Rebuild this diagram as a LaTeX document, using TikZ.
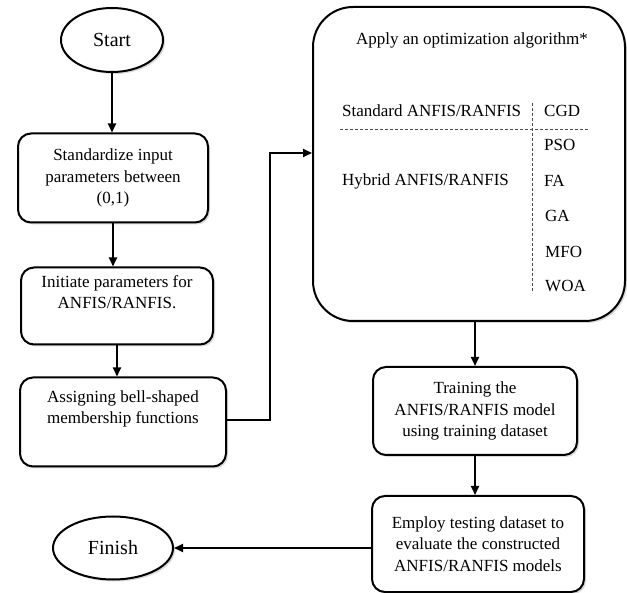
\documentclass[tikz,border=0pt]{standalone}
\usepackage{fontspec}
\setmainfont{Liberation Serif}
\usetikzlibrary{shapes.geometric, shadows, arrows.meta}

\begin{document}
\begin{tikzpicture}
        [x=1pt, y=-1pt,
        term/.style={ellipse, draw, line width=2pt, fill=white, inner sep=0pt,
            drop shadow={shadow xshift=2pt, shadow yshift=-2pt, opacity=0.3},
            font=\fontsize{20}{24}\selectfont},
        box/.style={rectangle, rounded corners=13pt, draw, line width=2pt, fill=white,
            align=center, inner sep=0pt,
            drop shadow={shadow xshift=2pt, shadow yshift=-2pt, opacity=0.3},
            font=\fontsize{17}{21.5}\selectfont},
        bigbox/.style={box, rounded corners=40pt},
        txt/.style={anchor=west, inner sep=0pt, font=\fontsize{17}{21.5}\selectfont},
        arrow/.style={line width=2pt, -{Triangle[length=9pt, width=8pt]}},
        sep/.style={line width=0.9pt, black!70, dash pattern=on 3pt off 2pt}]

        \useasboundingbox (0,0) rectangle (627,593);

        \node[term, minimum width=102, minimum height=64] (start) at (112,40) {Start};
        \node[box, minimum width=190, minimum height=89] (std) at (113,178)
            {Standardize input\\parameters between\\(0,1)};
        \node[box, minimum width=192, minimum height=77] (init) at (117,306)
            {Initiate parameters for\\ANFIS/RANFIS.\\[6pt]};
        \node[box, minimum width=206, minimum height=89] (assign) at (123,422)
            {Assigning bell-shaped\\membership functions\\[8pt]};
        \node[bigbox, minimum width=312, minimum height=314] (opt) at (469,164) {};
        \node[box, minimum width=204, minimum height=88] (train) at (475,411)
            {Training the\\ANFIS/RANFIS model\\using training dataset};
        \node[box, minimum width=212, minimum height=96] (employ) at (478,544)
            {Employ testing dataset to\\evaluate the constructed\\ANFIS/RANFIS models};
        \node[term, minimum width=120, minimum height=63] (finish) at (113,548) {Finish};

        % inside the optimization box
        \node[txt, anchor=center] (title) at (472,40) {Apply an optimization algorithm*};
        \node[txt] (std-anfis) at (342,111) {Standard ANFIS/RANFIS};
        \node[txt] (hyb-anfis) at (342,181) {Hybrid ANFIS/RANFIS};
        \node[txt] (cgd) at (544,111) {CGD};
        \node[txt] (pso) at (544,145) {PSO};
        \node[txt] (fa) at (544,181) {FA};
        \node[txt] (ga) at (545,216) {GA};
        \node[txt] (mfo) at (545,252) {MFO};
        \node[txt] (woa) at (545,286) {WOA};
        \draw[sep] (340,129) -- (588,129);
        \draw[sep] (532,103) -- (532,293);

        % flow arrows
        \coordinate (bend) at (270,153);
        \draw[arrow] (start) -- (start |- std.north);
        \draw[arrow] (std.south) -- (std.south |- init.north);
        \draw[arrow] (init.south) -- (init.south |- assign.north);
        \draw[arrow] (assign.east |- 0,420) -| (bend) -- (bend -| opt.west);
        \draw[arrow] (train.north |- opt.south) -- (train.north);
        \draw[arrow] (train.south) -- (train.south |- employ.north);
        \draw[arrow] (employ.west |- finish) -- (finish.east);

    \end{tikzpicture}
\end{document}
